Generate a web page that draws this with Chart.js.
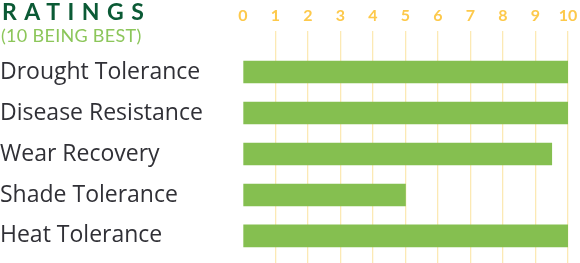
<!DOCTYPE html>
<html>
<head>
<meta charset="utf-8">
<script src="https://cdn.jsdelivr.net/npm/chart.js@4.4.1/dist/chart.umd.min.js"></script>
<style>
  body { margin: 0; background: #fff; }
  #wrap { position: relative; width: 580px; height: 263px; }
  #title {
    position: absolute; left: 2px; top: -3px;
    font: bold 23px Lato, sans-serif; letter-spacing: 7.5px; color: #0b5a35;
  }
  #sub {
    position: absolute; left: 1px; top: 24px;
    font: 18px Lato, sans-serif; letter-spacing: 0.3px; color: #8cc65a;
  }
</style>
</head>
<body>
<div id="wrap">
  <canvas id="chart" width="580" height="263"></canvas>
  <div id="title">RATINGS</div>
  <div id="sub">(10 BEING BEST)</div>
</div>
<script>
// chart data
const categories = ["Drought Tolerance", "Disease Resistance", "Wear Recovery", "Shade Tolerance", "Heat Tolerance"];
const ratings = [10, 10, 9.5, 5, 10];
const tickValues = [0, 1, 2, 3, 4, 5, 6, 7, 8, 9, 10];

const barColor = "#85bf50";
const gridColor = "#fce9b4";
const tickColor = "#fdc94b";

const points = ratings.map((v, i) => ({ x: v, y: i }));

const ctx = document.getElementById("chart").getContext("2d");
new Chart(ctx, {
  type: "bar",
  data: {
    datasets: [
      {
        data: points,
        backgroundColor: barColor,
        borderWidth: 0,
        barThickness: 22,
      },
    ],
  },
  options: {
    indexAxis: "y",
    responsive: false,
    animation: false,
    layout: { padding: { right: 12 } },
    plugins: { legend: { display: false }, tooltip: { enabled: false } },
    scales: {
      x: {
        position: "top",
        min: 0,
        max: 10,
        afterFit: (axis) => {
          axis.height = 31;
          axis.paddingLeft = 0;
          axis.paddingRight = 0;
        },
        afterBuildTicks: (axis) => {
          axis.ticks = tickValues.map((v) => ({ value: v }));
        },
        ticks: {
          color: tickColor,
          font: { family: "Lato", size: 16, weight: "bold" },
          padding: 6,
        },
        grid: {
          drawTicks: false,
          lineWidth: 1.3,
          color: (c) => (c.tick && c.tick.value === 0 ? "transparent" : gridColor),
        },
        border: { display: false },
      },
      y: {
        type: "linear",
        reverse: true,
        offset: false,
        min: -1,
        max: 4.66,
        afterFit: (axis) => {
          axis.width = 243;
          axis.paddingTop = 0;
          axis.paddingBottom = 0;
        },
        afterBuildTicks: (axis) => {
          axis.ticks = categories.map((c, i) => ({ value: i }));
        },
        ticks: {
          crossAlign: "far",
          color: "#303036",
          font: { family: "Open Sans", size: 23 },
          callback: (v) => categories[v] || "",
        },
        grid: { display: false },
        border: { display: false },
      },
    },
  },
});
</script>
</body>
</html>
